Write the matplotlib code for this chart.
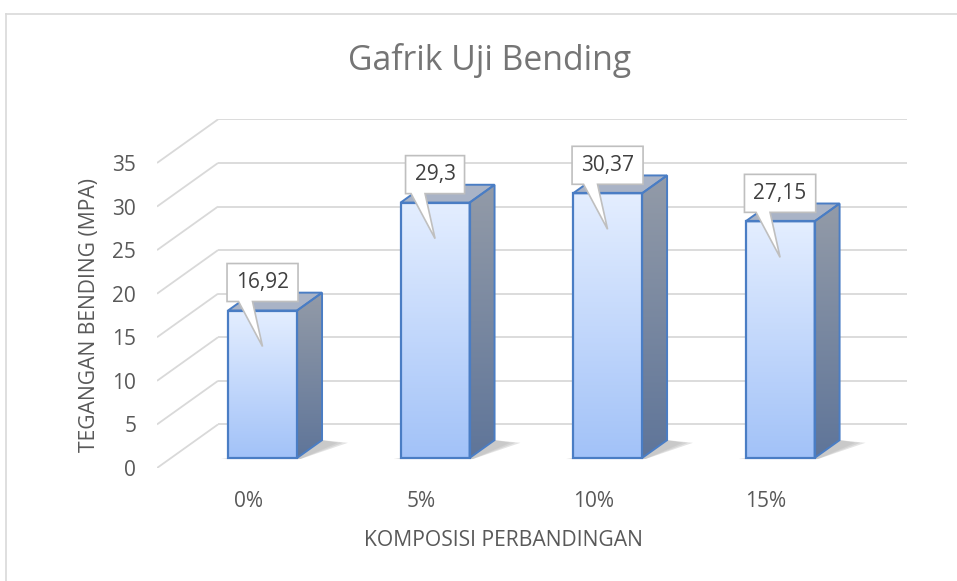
import numpy as np
import matplotlib.pyplot as plt
from matplotlib.patches import Polygon, Rectangle
from matplotlib.lines import Line2D
from matplotlib.colors import LinearSegmentedColormap

# data
categories = ['0%', '5%', '10%', '15%']
values = [16.92, 29.3, 30.37, 27.15]
value_labels = ['16,92', '29,3', '30,37', '27,15']
yticks = [0, 5, 10, 15, 20, 25, 30, 35]

plt.rcParams['font.family'] = ['Open Sans', 'DejaVu Sans']

fig = plt.figure(figsize=(9.57, 5.81), dpi=100)
W_PX, H_PX = 957, 581
# axes: front plane x from 157px to 907px, y=0 at 468px, y=40 at ~120px
ax = fig.add_axes([157 / W_PX, (H_PX - 468) / H_PX, 750 / W_PX, 348.6 / H_PX])
XMIN, XMAX = -0.5304, 3.817
YMIN, YMAX = 0, 40
for s in ax.spines.values():
    s.set_visible(False)

# 3d depth offsets (data units)
DX, DY = 0.3536, 5.0
BAR_W = 0.4
D0, D1 = 0.23, 0.64
PX_X = 750 / (XMAX - XMIN)        # pixels per x unit
PX_Y = 348.6 / (YMAX - YMIN)      # pixels per y unit

grid_c = '#d9d9d9'
# gridlines: left wall diagonals + back wall lines
for v in yticks:
    ax.plot([XMIN, XMIN + DX], [v, v + DY], color=grid_c, lw=1.3, zorder=1,
            solid_capstyle='butt')
    ax.plot([XMIN + DX, XMAX], [v + DY, v + DY], color=grid_c, lw=1.3, zorder=1,
            solid_capstyle='butt')

front_cm = LinearSegmentedColormap.from_list('front', ['#a2c2f8', '#e4eeff'])
side_cm = LinearSegmentedColormap.from_list('side', ['#5f7599', '#939ba8'])
grad = np.linspace(0, 1, 256).reshape(-1, 1)
edge_c = '#4a7dc4'
dd = D1 - D0

for i, v in enumerate(values):
    z = 3 + i * 0.1
    x0 = i - BAR_W / 2 + D0 * DX
    x1 = x0 + BAR_W
    yb = D0 * DY
    yt = v + D0 * DY

    # soft shadow on the floor
    for k, a in enumerate([0.06, 0.09, 0.13]):
        g = 0.03 * (2 - k)
        sh = Polygon([(x0 - 0.04 + g, yb - 0.12), (x1 + 0.02, yb - 0.12),
                      (x1 + dd * DX + 0.15 - g, yb + dd * DY * 0.85),
                      (x1 + dd * DX, yb + dd * DY)],
                     closed=True, facecolor='#303030', edgecolor='none',
                     alpha=a, zorder=z)
        ax.add_patch(sh)

    # front face
    front = Rectangle((x0, yb), BAR_W, v, facecolor='none', edgecolor=edge_c,
                      lw=1.6, zorder=z + 0.03)
    ax.add_patch(front)
    im = ax.imshow(grad, extent=[x0, x1, yb, yt], origin='lower', aspect='auto',
                   cmap=front_cm, zorder=z + 0.01, interpolation='bilinear')
    im.set_clip_path(front)

    # side face
    side_pts = [(x1, yb), (x1 + dd * DX, yb + dd * DY),
                (x1 + dd * DX, yt + dd * DY), (x1, yt)]
    side = Polygon(side_pts, closed=True, facecolor='none', edgecolor=edge_c,
                   lw=1.4, zorder=z + 0.03)
    ax.add_patch(side)
    im2 = ax.imshow(grad, extent=[x1, x1 + dd * DX, yb, yt + dd * DY],
                    origin='lower', aspect='auto', cmap=side_cm,
                    zorder=z + 0.01, interpolation='bilinear')
    im2.set_clip_path(side)

    # top face
    top = Polygon([(x0, yt), (x1, yt), (x1 + dd * DX, yt + dd * DY),
                   (x0 + dd * DX, yt + dd * DY)], closed=True,
                  facecolor='#a9b3c6', edgecolor=edge_c, lw=1.4, zorder=z + 0.02)
    ax.add_patch(top)

# callout labels
renderer = fig.canvas.get_renderer()
for i, (v, lab) in enumerate(zip(values, value_labels)):
    xc = i + D0 * DX
    yt = v + D0 * DY
    t = ax.text(xc, yt, lab, fontsize=15, color='#404040', ha='center',
                va='center', zorder=11)
    tw = t.get_window_extent(renderer).width
    half = (tw / 2 + 9) / PX_X
    b = yt + 9 / PX_Y
    h = 38 / PX_Y
    pts = [(xc - half, b), (xc - 24 / PX_X, b), (xc, yt - 36 / PX_Y),
           (xc - 10 / PX_X, b), (xc + half, b), (xc + half, b + h),
           (xc - half, b + h)]
    ax.add_patch(Polygon(pts, closed=True, facecolor='white', edgecolor='#bfbfbf',
                         lw=1.2, zorder=10))
    t.set_position((xc, b + h / 2))

ax.set_xlim(XMIN, XMAX)
ax.set_ylim(YMIN, YMAX)
ax.set_yticks(yticks)
ax.set_yticklabels([str(y) for y in yticks])
ax.set_xticks(range(len(categories)))
ax.set_xticklabels(categories)
ax.tick_params(axis='y', length=0, pad=15, labelsize=15, labelcolor='#595959')
ax.tick_params(axis='x', length=0, pad=16.5, labelsize=15, labelcolor='#595959')

# titles
fig.text(490 / W_PX, 1 - 60 / H_PX, 'Gafrik Uji Bending', fontsize=24.3,
         color='#757575', ha='center', va='center')
fig.text(90 / W_PX, 1 - 315 / H_PX, 'TEGANGAN BENDING (MPA)', fontsize=15.2,
         color='#595959', ha='center', va='center', rotation=90)
fig.text(503 / W_PX, 1 - 540 / H_PX, 'KOMPOSISI PERBANDINGAN', fontsize=15.2,
         color='#595959', ha='center', va='center')

# chart border (top and left edges visible)
fig.add_artist(Line2D([6 / W_PX, 1], [1 - 14 / H_PX, 1 - 14 / H_PX],
                      transform=fig.transFigure, color='#d9d9d9', lw=1.2))
fig.add_artist(Line2D([6 / W_PX, 6 / W_PX], [0, 1 - 14 / H_PX],
                      transform=fig.transFigure, color='#d9d9d9', lw=1.2))

fig.savefig('out.png', dpi=100)
